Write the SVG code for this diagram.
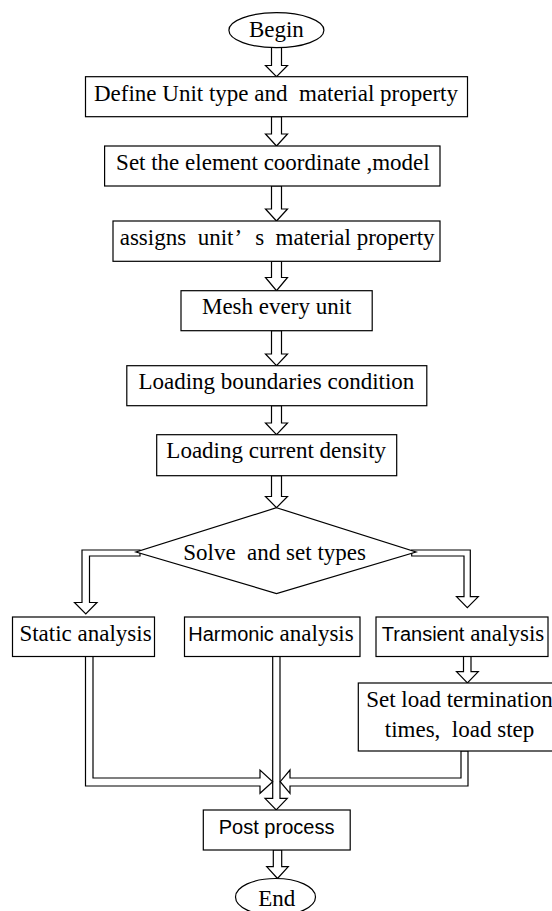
<svg xmlns="http://www.w3.org/2000/svg" width="552" height="911" viewBox="0 0 552 911">
<style>
.n{fill:#fff;stroke:#000;stroke-width:1.2}
.c{fill:#fff;stroke:#000;stroke-width:1.2;stroke-linejoin:miter}
.t{font-family:"Liberation Serif","Times New Roman",serif;font-size:23px;fill:#000;text-anchor:middle}
.ts{text-anchor:start}
.s{font-family:"Liberation Sans",Arial,sans-serif;font-size:20px}
</style>
<rect width="552" height="911" fill="#fff"/>
<g id="connectors">
<polygon class="c" points="271.5,47 271.5,65.5 265.5,65.5 276.5,76.7 287.5,65.5 281.5,65.5 281.5,47"/>
<polygon class="c" points="271.5,116.7 271.5,134 265.5,134 276.5,146 287.5,134 281.5,134 281.5,116.7"/>
<polygon class="c" points="271.5,186 271.5,209 265.5,209 276.5,221 287.5,209 281.5,209 281.5,186"/>
<polygon class="c" points="271.5,261.3 271.5,277.5 265.5,277.5 276.5,290.7 287.5,277.5 281.5,277.5 281.5,261.3"/>
<polygon class="c" points="271.5,330.7 271.5,354 265.5,354 276.5,365.7 287.5,354 281.5,354 281.5,330.7"/>
<polygon class="c" points="271.5,405.7 271.5,423 265.5,423 276.5,434.7 287.5,423 281.5,423 281.5,405.7"/>
<polygon class="c" points="271.5,475.7 271.5,496.5 265.5,496.5 276.5,507.7 287.5,496.5 281.5,496.5 281.5,475.7"/>
<polygon class="c" points="140,550 82,550 82,602.5 74.5,602.5 85.8,614 97,602.5 89.5,602.5 89.5,556 140,556"/>
<polygon class="c" points="411.7,550 470.3,550 470.3,596.7 478.3,596.7 467.3,607.7 456.5,596.7 464,596.7 464,556 411.7,556"/>
<polygon class="c" points="463.5,656.5 463.5,671.7 456.5,671.7 467.4,683 478.3,671.7 471,671.7 471,656.5"/>
<polygon class="c" points="272.7,656.5 272.7,798.3 265,798.3 276.2,810 287.3,798.3 280,798.3 280,656.5"/>
<polygon class="c" points="85.5,656.5 85.5,786 260,786 260,793.3 272.7,781.7 260,770 260,778 93,778 93,656.5"/>
<polygon class="c" points="468,751 468,786 290,786 290,793.3 280.2,781.7 290,770 290,778 461,778 461,751"/>
<polygon class="c" points="273.3,850 273.3,866.7 266.7,866.7 277.5,878.5 288.3,866.7 281.7,866.7 281.7,850"/>
</g>
<g id="begin"><ellipse class="n" cx="276.4" cy="30.2" rx="47.5" ry="17.5"/><text class="t" x="276.4" y="37">Begin</text></g>
<g id="define"><rect class="n" x="85.5" y="76.7" width="382" height="40"/><text class="t" x="276" y="100.5" xml:space="preserve">Define Unit type and  material property</text></g>
<g id="coord"><rect class="n" x="104.6" y="146" width="335.4" height="40"/><text class="t" x="272.9" y="170">Set the element coordinate ,model</text></g>
<g id="assign"><rect class="n" x="113" y="221" width="327" height="40.3"/><text class="t ts" x="119.7" y="245" xml:space="preserve">assigns  unit<tspan dx="1">’</tspan><tspan dx="9"> s  material property</tspan></text></g>
<g id="mesh"><rect class="n" x="181" y="290.7" width="191.2" height="40"/><text class="t" x="276.7" y="313.5">Mesh every unit</text></g>
<g id="boundary"><rect class="n" x="126.8" y="365.7" width="300" height="40"/><text class="t" x="276.4" y="388.5">Loading boundaries condition</text></g>
<g id="current"><rect class="n" x="156.7" y="434.7" width="240" height="41"/><text class="t" x="276.2" y="458.3">Loading current density</text></g>
<g id="solve"><polygon class="n" points="276.5,507.7 416,552 276.5,593.5 136,552"/><text class="t" x="274.6" y="560" xml:space="preserve">Solve  and set types</text></g>
<g id="static"><rect class="n" x="12.5" y="617" width="142" height="39.5"/><text class="t" x="85.5" y="640.5">Static analysis</text></g>
<g id="harmonic"><rect class="n" x="184.5" y="617" width="175.5" height="39.5"/><text class="t" x="271" y="640.5"><tspan class="s">Harmonic</tspan> analysis</text></g>
<g id="transient"><rect class="n" x="376" y="617" width="172" height="39.5"/><text class="t" x="463" y="640.5"><tspan class="s">Transient</tspan> analysis</text></g>
<g id="setload"><rect class="n" x="358.3" y="683" width="212" height="68"/><text class="t" x="459.5" y="706.7">Set load termination</text><text class="t" x="459.5" y="736.7" xml:space="preserve">times,  load step</text></g>
<g id="post"><rect class="n" x="203.3" y="810" width="146.9" height="40"/><text class="t s" x="276.6" y="833.5">Post process</text></g>
<g id="end"><ellipse class="n" cx="275.5" cy="897" rx="40" ry="18.5"/><text class="t" x="276.7" y="906">End</text></g>
</svg>
